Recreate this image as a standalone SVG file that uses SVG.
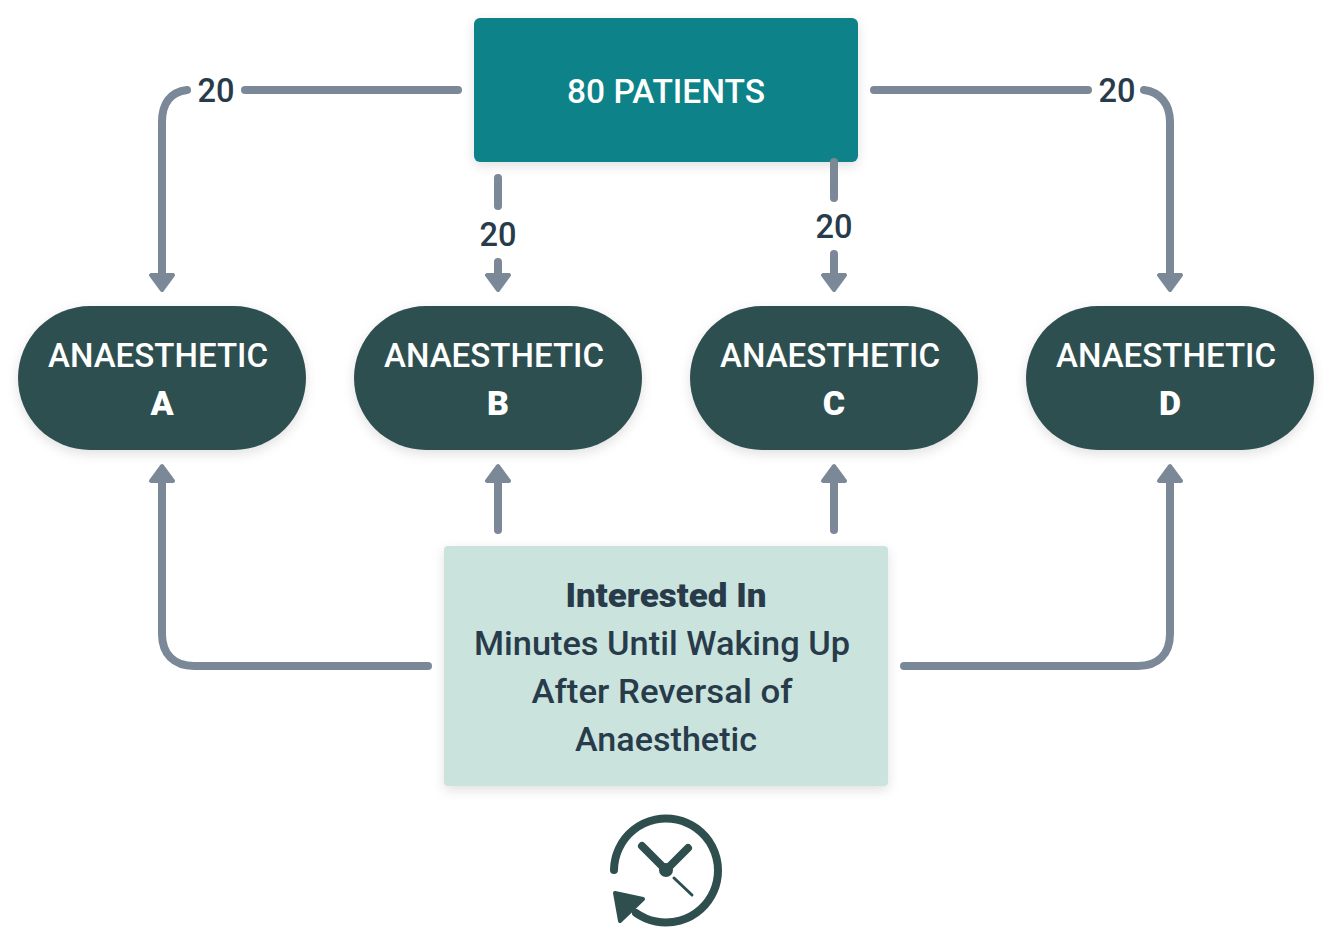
<svg xmlns="http://www.w3.org/2000/svg" width="1332" height="948" viewBox="0 0 1332 948">
<style>
text{font-family:Roboto,"Liberation Sans",sans-serif;text-anchor:middle}
.w{fill:#fff;font-size:34px;font-weight:500}
.wb{fill:#fff;font-size:34px;font-weight:900}
.d{fill:#283b4a;font-size:34px;font-weight:500}
.db{fill:#283b4a;font-size:34px;font-weight:900}
.c{fill:none;stroke:#7a8897;stroke-width:8px;stroke-linecap:round;stroke-linejoin:round}
.h{fill:#7a8897;stroke:#7a8897;stroke-width:4px;stroke-linejoin:round}
.p{fill:#2f4f4f;filter:url(#s)}
</style>
<defs>
<filter id="s" x="-10%" y="-15%" width="120%" height="135%"><feDropShadow dx="0" dy="4" stdDeviation="6" flood-color="#000" flood-opacity="0.12"/></filter>
</defs>
<g id="connectors">
<path class="c" d="M458 90H245"/>
<path class="c" d="M187 90C170 92 162 104 162 122V275"/>
<path class="h" d="M151 275H173L162 290Z"/>
<path class="c" d="M874 90H1088"/>
<path class="c" d="M1144 90C1160 92 1170 104 1170 122V275"/>
<path class="h" d="M1159 275H1181L1170 290Z"/>
<path class="c" d="M498 178V206"/>
<path class="c" d="M498 262V276"/>
<path class="h" d="M487 275H509L498 290Z"/>
<path class="c" d="M834 254V276"/>
<path class="h" d="M823 275H845L834 290Z"/>
<path class="c" d="M428 666H194C174 666 162 654 162 634V480"/>
<path class="h" d="M151 481H173L162 466Z"/>
<path class="c" d="M904 666H1138C1158 666 1170 654 1170 634V480"/>
<path class="h" d="M1159 481H1181L1170 466Z"/>
<path class="c" d="M498 530V480"/>
<path class="h" d="M487 481H509L498 466Z"/>
<path class="c" d="M834 530V480"/>
<path class="h" d="M823 481H845L834 466Z"/>
</g>
<text class="d" x="216" y="102" textLength="37" lengthAdjust="spacingAndGlyphs">20</text>
<text class="d" x="1117" y="102" textLength="37" lengthAdjust="spacingAndGlyphs">20</text>
<text class="d" x="498" y="246" textLength="37" lengthAdjust="spacingAndGlyphs">20</text>
<text class="d" x="834" y="238" textLength="37" lengthAdjust="spacingAndGlyphs">20</text>
<g id="patients">
<rect x="474" y="18" width="384" height="144" rx="6" fill="#108288" filter="url(#s)"/>
<text class="w" x="666" y="103" textLength="198" lengthAdjust="spacingAndGlyphs">80 PATIENTS</text>
</g>
<path class="c" d="M834 162V198"/>
<g id="anaesthetic-a">
<rect class="p" x="18" y="306" width="288" height="144" rx="72"/>
<text class="w" x="158" y="367" textLength="220" lengthAdjust="spacingAndGlyphs">ANAESTHETIC</text>
<text class="wb" x="162" y="415">A</text>
</g>
<g id="anaesthetic-b">
<rect class="p" x="354" y="306" width="288" height="144" rx="72"/>
<text class="w" x="494" y="367" textLength="220" lengthAdjust="spacingAndGlyphs">ANAESTHETIC</text>
<text class="wb" x="498" y="415">B</text>
</g>
<g id="anaesthetic-c">
<rect class="p" x="690" y="306" width="288" height="144" rx="72"/>
<text class="w" x="830" y="367" textLength="220" lengthAdjust="spacingAndGlyphs">ANAESTHETIC</text>
<text class="wb" x="834" y="415">C</text>
</g>
<g id="anaesthetic-d">
<rect class="p" x="1026" y="306" width="288" height="144" rx="72"/>
<text class="w" x="1166" y="367" textLength="220" lengthAdjust="spacingAndGlyphs">ANAESTHETIC</text>
<text class="wb" x="1170" y="415">D</text>
</g>
<g id="interest">
<rect x="444" y="546" width="444" height="240" rx="4" fill="#cbe3dd" filter="url(#s)"/>
<text class="db" x="666" y="607" textLength="201" lengthAdjust="spacingAndGlyphs">Interested In</text>
<text class="d" x="662" y="655" textLength="376" lengthAdjust="spacingAndGlyphs">Minutes Until Waking Up</text>
<text class="d" x="662" y="703" textLength="261" lengthAdjust="spacingAndGlyphs">After Reversal of</text>
<text class="d" x="666" y="751" textLength="182" lengthAdjust="spacingAndGlyphs">Anaesthetic</text>
</g>
<g id="clock" fill="none" stroke="#2f4f4f" stroke-linecap="round" stroke-linejoin="round">
<path stroke-width="8" d="M614 870A52 52 0 1 1 636 913"/>
<path stroke-width="8" d="M642 846L666 870L688 848"/>
<circle cx="666" cy="870" r="6" fill="#2f4f4f" stroke-width="2"/>
<path stroke-width="3" d="M674 878L692 895"/>
<path fill="#2f4f4f" stroke-width="4" d="M615 893L643 899L620 921Z"/>
</g>
</svg>
